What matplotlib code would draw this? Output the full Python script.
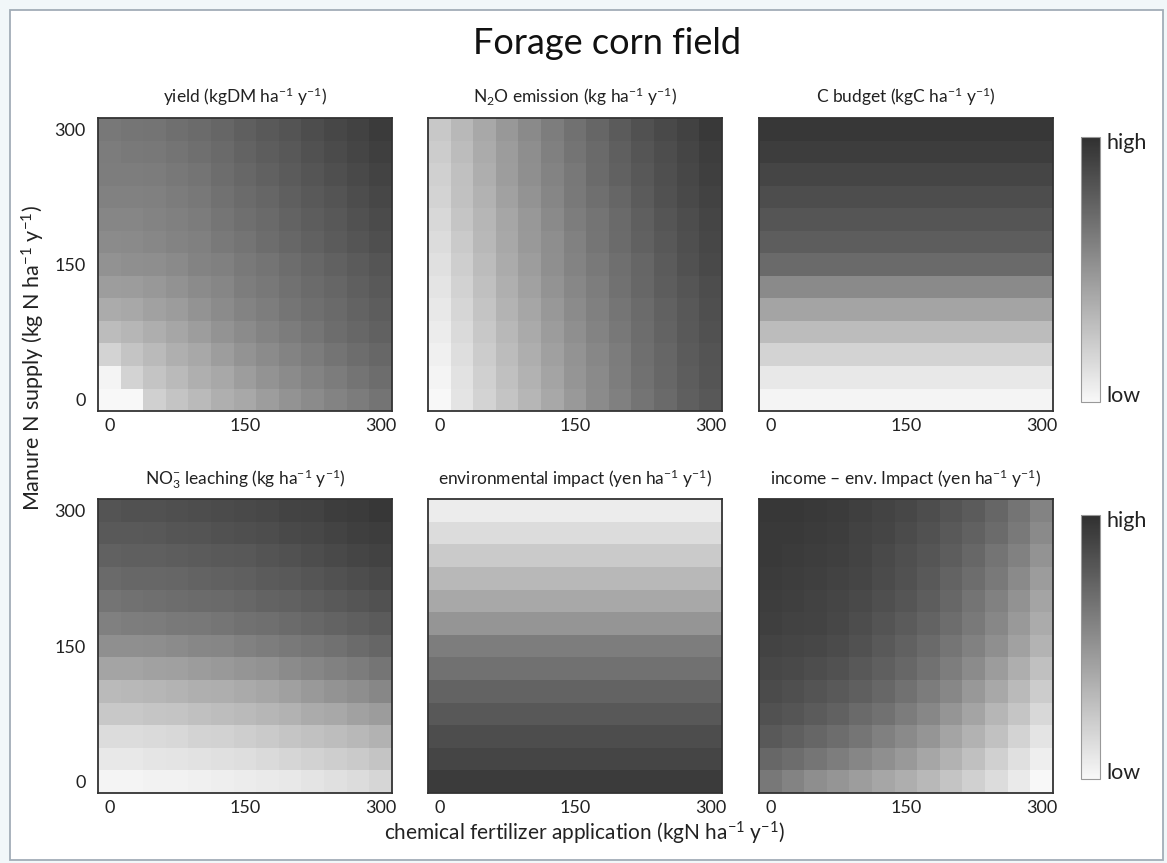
import numpy as np
import matplotlib
matplotlib.use("Agg")
import matplotlib.pyplot as plt
from matplotlib.colors import LinearSegmentedColormap
from matplotlib.patches import Rectangle
from matplotlib.cm import ScalarMappable
from matplotlib.colors import Normalize

plt.rcParams['font.family'] = ['Lato', 'DejaVu Sans']
plt.rcParams['mathtext.fontset'] = 'custom'
plt.rcParams['mathtext.rm'] = 'Lato'
plt.rcParams['mathtext.it'] = 'Lato:italic'
plt.rcParams['mathtext.bf'] = 'Lato:bold'

# ---------------- data (relative level 0 = low, 100 = high) ----------------
fertilizer = [0, 25, 50, 75, 100, 125, 150, 175, 200, 225, 250, 275, 300]
manure = [0, 25, 50, 75, 100, 125, 150, 175, 200, 225, 250, 275, 300]
tick_vals = [0, 150, 300]

# rows: manure 0 -> 300, columns: fertilizer 0 -> 300
yield_vals = [
    [0, 0, 20, 26, 31, 36, 40, 45, 50, 54, 58, 62, 66],
    [2, 18, 26, 31, 36, 40, 45, 50, 54, 58, 62, 66, 69],
    [18, 26, 31, 36, 40, 45, 50, 54, 58, 62, 66, 69, 72],
    [30, 33, 37, 41, 45, 50, 54, 58, 62, 65, 69, 72, 75],
    [38, 40, 43, 46, 50, 54, 58, 61, 65, 68, 71, 74, 77],
    [45, 46, 48, 51, 54, 57, 61, 64, 67, 70, 73, 76, 79],
    [51, 52, 53, 55, 58, 60, 63, 66, 69, 72, 75, 78, 81],
    [54, 55, 56, 58, 60, 63, 66, 69, 72, 75, 78, 81, 84],
    [57, 57, 58, 60, 62, 65, 68, 71, 74, 77, 80, 83, 86],
    [59, 59, 60, 62, 64, 67, 70, 73, 76, 79, 82, 85, 88],
    [61, 61, 62, 64, 66, 69, 72, 75, 78, 81, 84, 87, 90],
    [62, 63, 64, 66, 68, 71, 74, 77, 80, 83, 86, 89, 92],
    [64, 65, 66, 68, 70, 73, 76, 79, 82, 85, 88, 91, 94],
]

n2o_vals = [
    [0, 10, 18, 26, 33, 40, 47, 54, 60, 66, 71, 76, 80],
    [2, 11, 20, 28, 35, 42, 49, 55, 61, 67, 72, 77, 81],
    [4, 13, 22, 30, 37, 44, 50, 56, 62, 68, 73, 78, 82],
    [6, 15, 24, 32, 39, 46, 52, 58, 64, 69, 74, 79, 83],
    [8, 17, 26, 34, 41, 48, 54, 60, 65, 70, 75, 80, 84],
    [10, 19, 28, 36, 43, 50, 56, 61, 67, 72, 77, 81, 85],
    [12, 21, 30, 38, 45, 52, 58, 63, 68, 73, 78, 83, 87],
    [14, 23, 32, 40, 47, 53, 59, 65, 70, 75, 80, 84, 88],
    [16, 25, 33, 41, 48, 55, 61, 66, 71, 76, 81, 85, 89],
    [18, 27, 35, 43, 50, 57, 63, 68, 73, 78, 83, 87, 91],
    [20, 28, 37, 45, 52, 58, 64, 70, 75, 80, 84, 88, 92],
    [22, 30, 38, 46, 53, 60, 66, 71, 76, 81, 85, 89, 93],
    [24, 32, 40, 48, 55, 61, 67, 73, 78, 83, 87, 91, 95],
]

# C budget varies with manure only (same across fertilizer levels)
c_budget_by_manure = [2, 8, 18, 30, 42, 55, 71, 77, 81, 85, 89, 93, 96]

no3_vals = [
    [2, 2, 3, 3, 4, 5, 6, 7, 8, 10, 12, 14, 17],
    [8, 8, 9, 10, 11, 12, 13, 15, 17, 19, 21, 23, 26],
    [14, 14, 15, 16, 18, 19, 21, 23, 25, 27, 29, 32, 35],
    [24, 24, 25, 26, 28, 29, 31, 33, 35, 38, 40, 43, 46],
    [31, 32, 33, 34, 36, 37, 39, 41, 44, 47, 50, 53, 56],
    [42, 42, 43, 44, 46, 47, 49, 51, 54, 57, 59, 62, 65],
    [52, 52, 53, 54, 56, 57, 59, 61, 63, 65, 67, 70, 73],
    [60, 61, 62, 63, 64, 65, 67, 68, 70, 72, 74, 76, 78],
    [66, 67, 68, 69, 70, 71, 72, 74, 75, 77, 79, 81, 83],
    [71, 72, 72, 73, 74, 75, 76, 78, 79, 81, 83, 85, 87],
    [75, 76, 76, 77, 78, 79, 80, 82, 83, 85, 87, 89, 91],
    [79, 79, 80, 81, 82, 83, 84, 85, 87, 88, 90, 92, 93],
    [82, 83, 83, 84, 85, 86, 87, 88, 90, 91, 93, 94, 96],
]

# environmental impact varies with manure only
env_by_manure = [94, 89, 85, 80, 74, 67, 61, 49, 40, 32, 23, 14, 6]

income_vals = [
    [64, 58, 53, 49, 45, 41, 37, 32, 26, 20, 14, 7, 0],
    [72, 69, 65, 61, 57, 52, 47, 41, 35, 28, 20, 12, 5],
    [79, 76, 73, 69, 65, 60, 55, 49, 42, 35, 27, 18, 10],
    [83, 81, 78, 75, 71, 67, 62, 56, 49, 42, 33, 25, 16],
    [86, 84, 82, 79, 76, 72, 67, 62, 56, 48, 40, 31, 22],
    [88, 87, 85, 83, 80, 76, 72, 67, 61, 54, 46, 37, 28],
    [90, 89, 88, 86, 83, 79, 75, 71, 65, 59, 52, 43, 34],
    [92, 91, 90, 88, 85, 82, 78, 74, 69, 63, 56, 47, 38],
    [93, 92, 91, 89, 87, 84, 81, 77, 72, 66, 59, 51, 42],
    [94, 93, 92, 91, 89, 86, 83, 79, 74, 69, 63, 55, 46],
    [95, 94, 93, 92, 90, 87, 84, 81, 77, 72, 66, 59, 50],
    [95, 95, 94, 93, 91, 89, 86, 83, 79, 75, 70, 63, 55],
    [96, 96, 95, 94, 92, 90, 88, 85, 82, 78, 73, 66, 58],
]

titles = [
    "yield (kgDM ha$^{-1}$ y$^{-1}$)",
    "N$_2$O emission (kg ha$^{-1}$ y$^{-1}$)",
    "C budget (kgC ha$^{-1}$ y$^{-1}$)",
    "NO$_3^{-}$ leaching (kg ha$^{-1}$ y$^{-1}$)",
    "environmental impact (yen ha$^{-1}$ y$^{-1}$)",
    "income \u2013 env. Impact (yen ha$^{-1}$ y$^{-1}$)",
]

c_budget_vals = np.repeat(np.array(c_budget_by_manure)[:, None], len(fertilizer), axis=1)
env_vals = np.repeat(np.array(env_by_manure)[:, None], len(fertilizer), axis=1)
grids = [yield_vals, n2o_vals, c_budget_vals, no3_vals, env_vals, income_vals]

# ---------------- figure ----------------
W, H = 1167, 863
fig = plt.figure(figsize=(W / 100, H / 100), dpi=100)
fig.patch.set_facecolor('#f1f7f9')
fig.add_artist(Rectangle((10 / W, 1 - 860 / H), 1153 / W, 850 / H,
                         transform=fig.transFigure, facecolor='white',
                         edgecolor='#a2adb7', lw=1.3, zorder=0))


def px_axes(x0, y0, x1, y1):
    return fig.add_axes([x0 / W, 1 - y1 / H, (x1 - x0) / W, (y1 - y0) / H])


cmap = LinearSegmentedColormap.from_list('grey_lh', ['#f8f8f8', '#303030'])
step = fertilizer[1] - fertilizer[0]
extent = [fertilizer[0] - step / 2, fertilizer[-1] + step / 2,
          manure[0] - step / 2, manure[-1] + step / 2]

cols = [(98, 392), (428, 722), (759, 1053)]
rows = [(118, 411), (499, 793)]
title_y = [97, 479]

for i, grid in enumerate(grids):
    r, c = divmod(i, 3)
    x0, x1 = cols[c]
    y0, y1 = rows[r]
    ax = px_axes(x0, y0, x1, y1)
    ax.imshow(np.array(grid, dtype=float), cmap=cmap, vmin=0, vmax=100,
              origin='lower', extent=extent, aspect='auto',
              interpolation='nearest')
    ax.set_xticks(tick_vals)
    ax.set_xticklabels([str(t) for t in tick_vals])
    ax.tick_params(axis='x', length=0, pad=5, labelsize=13, colors='#222222')
    if c == 0:
        ax.set_yticks(tick_vals)
        ax.set_yticklabels([str(t) for t in tick_vals])
        ax.tick_params(axis='y', length=0, pad=9, labelsize=13, colors='#222222')
    else:
        ax.set_yticks([])
    for s in ax.spines.values():
        s.set_color('#333333')
        s.set_linewidth(1.3)
    fig.text((x0 + x1) / 2 / W, 1 - title_y[r] / H, titles[i],
             ha='center', va='center', fontsize=12.5, color='#222222')

# colour keys
for (cy0, cy1) in [(137, 402), (515, 779)]:
    cax = px_axes(1081, cy0, 1100, cy1)
    cb = fig.colorbar(ScalarMappable(norm=Normalize(0, 100), cmap=cmap), cax=cax)
    cb.set_ticks([])
    cb.outline.set_edgecolor('#999999')
    cb.outline.set_linewidth(0.8)
    fig.text(1106 / W, 1 - (cy0 + 6) / H, "high", ha='left', va='center',
             fontsize=15.5, color='#222222')
    fig.text(1106 / W, 1 - (cy1 - 6) / H, "low", ha='left', va='center',
             fontsize=15.5, color='#222222')

fig.text(607 / W, 1 - 43 / H, "Forage corn field", ha='center', va='center',
         fontsize=26, color='#111111')
fig.text(585 / W, 1 - 833 / H,
         "chemical fertilizer application (kgN ha$^{-1}$ y$^{-1}$)",
         ha='center', va='center', fontsize=15, color='#222222')
fig.text(33 / W, 1 - 358 / H, "Manure N supply (kg N ha$^{-1}$ y$^{-1}$)",
         ha='center', va='center', rotation=90, fontsize=15.5, color='#222222')

fig.savefig('out.png', dpi=100, facecolor=fig.get_facecolor())
